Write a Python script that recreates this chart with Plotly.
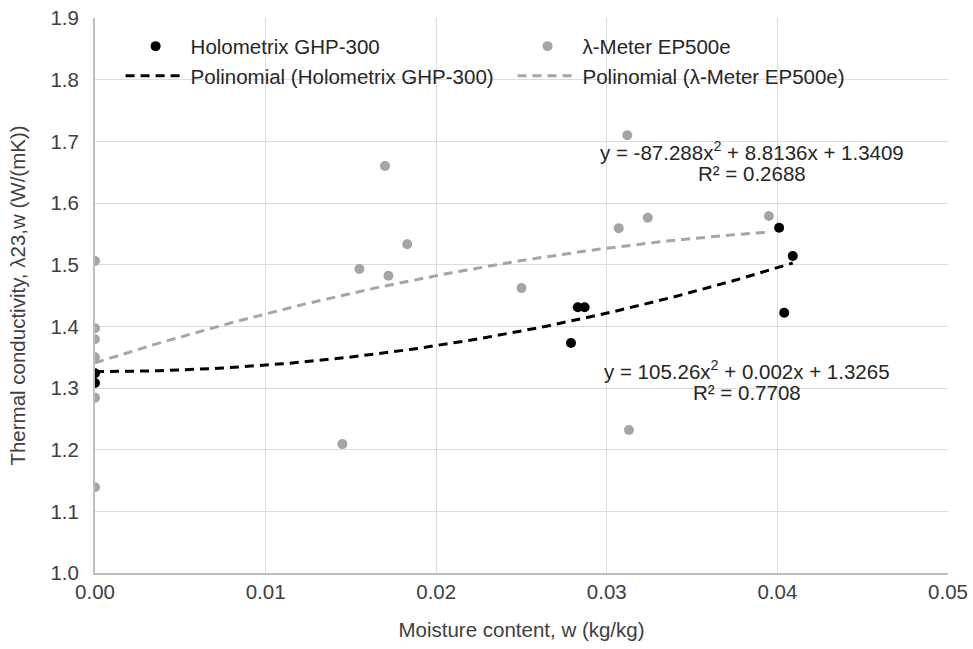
import numpy as np
import plotly.graph_objects as go

# Holometrix GHP-300 measurements
holo_w = [0.0, 0.0, 0.0279, 0.0283, 0.0287, 0.0401, 0.0404, 0.0409]
holo_lambda = [1.324, 1.308, 1.373, 1.431, 1.431, 1.560, 1.422, 1.514]

# λ-Meter EP500e measurements
lm_w = [0.0, 0.0, 0.0, 0.0, 0.0, 0.0, 0.0145, 0.0155, 0.0170, 0.0172, 0.0183,
        0.0250, 0.0307, 0.0312, 0.0313, 0.0324, 0.0395]
lm_lambda = [1.506, 1.397, 1.379, 1.350, 1.284, 1.139, 1.209, 1.493, 1.660, 1.482,
             1.533, 1.462, 1.559, 1.710, 1.232, 1.576, 1.579]

# Polynomial trendline coefficients (a*x^2 + b*x + c), as printed on the chart
holo_coef = [105.26, 0.002, 1.3265]
lm_coef = [-87.288, 8.8136, 1.3409]

holo_eq = ["y = 105.26x<sup>2</sup> + 0.002x + 1.3265", "R² = 0.7708"]
lm_eq = ["y = -87.288x<sup>2</sup> + 8.8136x + 1.3409", "R² = 0.2688"]

x_ticks = [0.0, 0.01, 0.02, 0.03, 0.04, 0.05]
y_ticks = [1.0, 1.1, 1.2, 1.3, 1.4, 1.5, 1.6, 1.7, 1.8, 1.9]

FONT = "Liberation Sans, Arial, sans-serif"
TXT = "#404040"
FS = 20.5

xh = np.linspace(0, max(holo_w), 120)
xl = np.linspace(0, max(lm_w), 120)
yh = np.polyval(holo_coef, xh)
yl = np.polyval(lm_coef, xl)

fig = go.Figure()
fig.add_trace(go.Scatter(x=holo_w, y=holo_lambda, mode="markers", name="Holometrix GHP-300",
                         marker=dict(color="black", size=10), legend="legend"))
fig.add_trace(go.Scatter(x=xh, y=yh, mode="lines", name="Polinomial (Holometrix GHP-300)",
                         line=dict(color="black", width=3, dash="9px,6px"), legend="legend"))
fig.add_trace(go.Scatter(x=lm_w, y=lm_lambda, mode="markers", name="λ-Meter EP500e",
                         marker=dict(color="#a5a5a5", size=10), legend="legend2"))
fig.add_trace(go.Scatter(x=xl, y=yl, mode="lines", name="Polinomial (λ-Meter EP500e)",
                         line=dict(color="#a5a5a5", width=3, dash="9px,6px"), legend="legend2"))

ann = []
for txt, xx, yy in [(lm_eq[0], 0.03851, 1.684), (lm_eq[1], 0.03851, 1.6486),
                    (holo_eq[0], 0.03824, 1.3292), (holo_eq[1], 0.03824, 1.2935)]:
    ann.append(dict(x=xx, y=yy, xref="x", yref="y", text=txt, showarrow=False,
                    font=dict(family=FONT, size=FS, color="#262626"), xanchor="center", yanchor="middle"))

legend_common = dict(orientation="v", yanchor="top", xanchor="left", bgcolor="rgba(0,0,0,0)",
                     font=dict(family=FONT, size=FS, color="#262626"), tracegroupgap=0,
                     itemwidth=60)

fig.update_layout(
    width=973, height=649,
    margin=dict(l=95, r=25, t=18, b=76),
    paper_bgcolor="white", plot_bgcolor="white",
    font=dict(family=FONT, size=FS, color=TXT),
    showlegend=True,
    legend=dict(x=0.03, y=0.985, **legend_common),
    legend2=dict(x=0.4895, y=0.985, **legend_common),
    annotations=ann,
    xaxis=dict(range=[0, 0.05], tickvals=x_ticks, ticktext=[f"{v:.2f}" for v in x_ticks],
               showgrid=True, gridcolor="#dcdcdc", gridwidth=1, zeroline=False,
               showline=True, linecolor="#bfbfbf", linewidth=1.5, ticks="",
               automargin=False, ticklabelstandoff=0, ticklabeloverflow="allow",
               tickfont=dict(family=FONT, size=FS, color=TXT),
               title=dict(text="Moisture content, w (kg/kg)", font=dict(family=FONT, size=FS, color=TXT), standoff=20)),
    yaxis=dict(range=[1.0, 1.9], tickvals=y_ticks, ticktext=[f"{v:.1f}" for v in y_ticks],
               showgrid=True, gridcolor="#dcdcdc", gridwidth=1, zeroline=False,
               showline=True, linecolor="#bfbfbf", linewidth=2, ticks="",
               automargin=False, ticklabelstandoff=10, ticklabeloverflow="allow",
               tickfont=dict(family=FONT, size=FS, color=TXT),
               title=dict(text="Thermal conductivity, λ23,w (W/(mK))", font=dict(family=FONT, size=FS, color=TXT), standoff=19)),
)

# remove the default 8px page margin so the figure fills the 973x649 window exactly
fig.write_html("out.html", config={"displayModeBar": False},
               post_script="document.body.style.margin='0';document.body.style.overflow='hidden';")
